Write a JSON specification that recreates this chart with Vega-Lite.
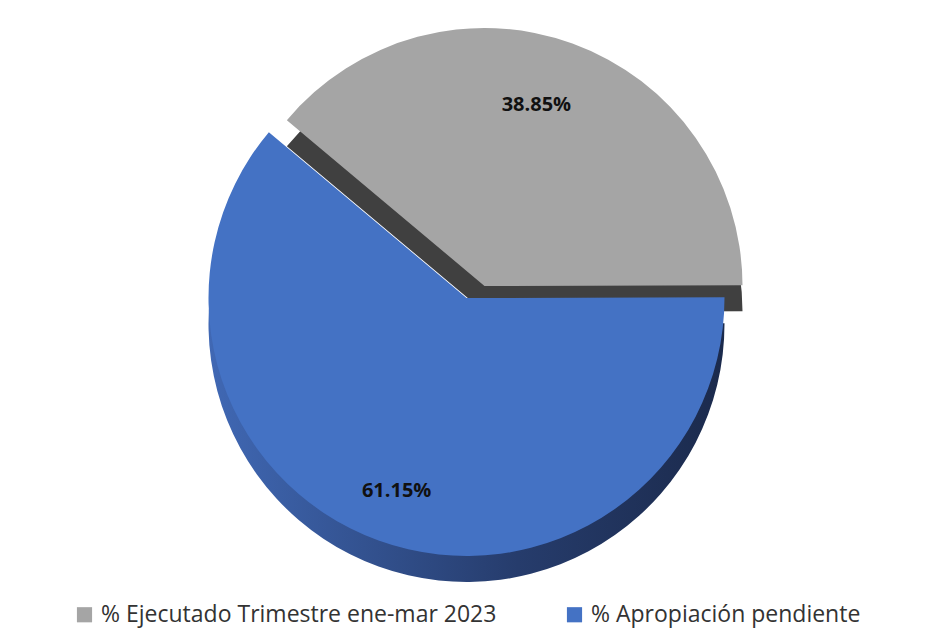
{
  "$schema": "https://vega.github.io/schema/vega-lite/v6.json",
  "width": 933,
  "height": 632,
  "autosize": {"type": "fit", "contains": "padding"},
  "background": "white",
  "config": {"view": {"stroke": null}},
  "data": {
    "values": [
      {"cat": "% Ejecutado Trimestre ene-mar 2023", "value": 38.85, "label": "38.85%", "ord": 1},
      {"cat": "% Apropiación pendiente", "value": 61.15, "label": "61.15%", "ord": 2}
    ]
  },
  "transform": [
    {"stack": "value", "groupby": [], "sort": [{"field": "ord", "order": "ascending"}], "as": ["v0", "v1"]}
  ],
  "encoding": {
    "theta": {"field": "v0", "type": "quantitative", "scale": {"domain": [0, 100], "range": [-0.87266, 5.41052]}},
    "theta2": {"field": "v1"}
  },
  "layer": [
    {
      "transform": [{"filter": "datum.ord == 1"}],
      "mark": {"type": "arc", "radius": 258, "xOffset": 18, "yOffset": -4, "color": "#404040"}
    },
    {
      "transform": [{"filter": "datum.ord == 1"}],
      "mark": {"type": "arc", "radius": 258, "xOffset": 18, "yOffset": -30},
      "encoding": {
        "color": {"field": "cat", "type": "nominal", "sort": ["% Ejecutado Trimestre ene-mar 2023", "% Apropiación pendiente"],
          "scale": {"domain": ["% Ejecutado Trimestre ene-mar 2023", "% Apropiación pendiente"], "range": ["#A5A5A5", "#4472C4"]},
          "legend": {"orient": "none", "legendX": 68, "legendY": 598, "direction": "horizontal", "title": null, "symbolType": "square", "symbolSize": 230, "symbolStrokeWidth": 0, "labelFontSize": 23, "labelFont": "Open Sans", "labelColor": "#333333", "labelLimit": 600, "columnPadding": 66, "labelOffset": 5}}
      }
    },
    {
      "transform": [{"filter": "datum.ord == 2"}],
      "mark": {"type": "arc", "radius": 258, "yOffset": 8,
        "color": {"gradient": "linear", "x1": 0, "x2": 1, "y1": 0, "y2": 0,
          "stops": [{"offset": 0, "color": "#4068B4"}, {"offset": 0.6, "color": "#263C6C"}, {"offset": 1, "color": "#1B2A4C"}]}}
    },
    {
      "transform": [{"filter": "datum.ord == 2"}],
      "mark": {"type": "arc", "radius": 258, "yOffset": -18},
      "encoding": {
        "color": {"field": "cat", "type": "nominal"}
      }
    },
    {
      "mark": {"type": "text", "radius": 205, "fontSize": 20, "fontWeight": "bold", "font": "Open Sans", "color": "#111111", "yOffset": -18},
      "encoding": {
        "theta": {"field": "value", "type": "quantitative", "stack": true, "sort": {"field": "ord"}},
        "theta2": null,
        "order": {"field": "ord"},
        "text": {"field": "label"}
      }
    }
  ]
}
